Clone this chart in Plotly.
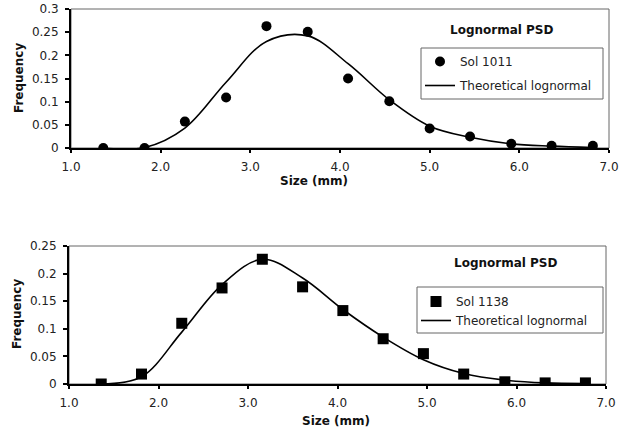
import plotly.graph_objects as go

# ---- data ----
size_1011 = [1.36, 1.82, 2.27, 2.73, 3.18, 3.64, 4.09, 4.55, 5.00, 5.45, 5.91, 6.36, 6.82]
freq_1011 = [0.0, 0.0, 0.057, 0.109, 0.263, 0.251, 0.150, 0.101, 0.042, 0.025, 0.009, 0.005, 0.005]
theory_1011 = [0.0, 0.001, 0.043, 0.142, 0.230, 0.242, 0.182, 0.104, 0.047, 0.023, 0.009, 0.004, 0.001]

size_1138 = [1.36, 1.81, 2.26, 2.71, 3.16, 3.61, 4.06, 4.51, 4.96, 5.41, 5.87, 6.32, 6.77]
freq_1138 = [0.0, 0.018, 0.110, 0.174, 0.226, 0.176, 0.133, 0.082, 0.055, 0.018, 0.004, 0.002, 0.002]
theory_1138 = [0.0, 0.013, 0.094, 0.180, 0.226, 0.192, 0.135, 0.085, 0.044, 0.019, 0.007, 0.002, 0.001]

x_ticks = [1, 2, 3, 4, 5, 6, 7]
x_ticktext = ["1.0", "2.0", "3.0", "4.0", "5.0", "6.0", "7.0"]

W, H = 631, 434
FONT = "DejaVu Sans, Verdana, sans-serif"


def px(x):
    return x / W


def py(y):
    return 1 - y / H


fig = go.Figure()

fig.add_trace(go.Scatter(x=size_1011, y=freq_1011, mode="markers", name="Sol 1011",
                         marker=dict(symbol="circle", size=10, color="black"),
                         xaxis="x", yaxis="y", legend="legend", legendgroup="a"))
fig.add_trace(go.Scatter(x=size_1011, y=theory_1011, mode="lines", name="Theoretical lognormal",
                         line=dict(color="black", width=1.6, shape="spline", smoothing=1.0),
                         xaxis="x", yaxis="y", legend="legend", legendgroup="b"))
fig.add_trace(go.Scatter(x=size_1138, y=freq_1138, mode="markers", name="Sol 1138",
                         marker=dict(symbol="square", size=11, color="black"),
                         xaxis="x2", yaxis="y2", legend="legend2", legendgroup="c"))
fig.add_trace(go.Scatter(x=size_1138, y=theory_1138, mode="lines", name="Theoretical lognormal",
                         line=dict(color="black", width=1.6, shape="spline", smoothing=1.0),
                         xaxis="x2", yaxis="y2", legend="legend2", legendgroup="d"))

xcommon = dict(range=[1, 7], tickmode="array", tickvals=x_ticks, ticktext=x_ticktext,
               showgrid=False, zeroline=False, showline=True, linewidth=2, linecolor="black",
               ticks="outside", ticklen=3, tickwidth=1.5, tickcolor="black", automargin=False,
               tickfont=dict(family=FONT, size=12, color="#222"), ticklabelstandoff=4)
ycommon = dict(dtick=0.05, showgrid=False, zeroline=False, showline=True, linewidth=2,
               linecolor="black", ticks="outside", ticklen=4, tickwidth=1.5, tickcolor="black",
               automargin=False,
               tickfont=dict(family=FONT, size=12, color="#222"), ticklabelstandoff=4)

top = dict(x0=71, x1=609, y0=9, y1=148)
bot = dict(x0=69, x1=606, y0=246, y1=384)

fig.update_layout(
    width=W, height=H, margin=dict(l=0, r=0, t=0, b=0, autoexpand=False),
    paper_bgcolor="white", plot_bgcolor="white",
    font=dict(family=FONT, size=12, color="#222"),
    xaxis=dict(domain=[px(top["x0"]), px(top["x1"])], anchor="y", **xcommon),
    yaxis=dict(domain=[py(top["y1"]), py(top["y0"])], anchor="x", range=[0, 0.3], **ycommon),
    xaxis2=dict(domain=[px(bot["x0"]), px(bot["x1"])], anchor="y2", **xcommon),
    yaxis2=dict(domain=[py(bot["y1"]), py(bot["y0"])], anchor="x2", range=[0, 0.25], **ycommon),
    legend=dict(x=px(420), y=py(47), xanchor="left", yanchor="top", bgcolor="rgba(0,0,0,0)",
                borderwidth=0, tracegroupgap=5, font=dict(family=FONT, size=12, color="#222")),
    legend2=dict(x=px(416), y=py(287), xanchor="left", yanchor="top", bgcolor="rgba(0,0,0,0)",
                 borderwidth=0, tracegroupgap=0, font=dict(family=FONT, size=12, color="#222")),
    showlegend=True,
)

shapes = []
for b in (top, bot):
    shapes.append(dict(type="rect", xref="paper", yref="paper", x0=px(b["x0"]), x1=px(b["x1"]),
                       y0=py(b["y1"]), y1=py(b["y0"]), line=dict(color="#666", width=1), layer="below"))
# legend boxes
shapes.append(dict(type="rect", xref="paper", yref="paper", x0=px(421), x1=px(603), y0=py(99), y1=py(48),
                   line=dict(color="#666", width=1)))
shapes.append(dict(type="rect", xref="paper", yref="paper", x0=px(417), x1=px(603), y0=py(333), y1=py(287),
                   line=dict(color="#666", width=1)))
fig.update_layout(shapes=shapes)

ann = []
def text(x, y, t, bold=True, angle=0):
    ann.append(dict(x=px(x), y=py(y), xref="paper", yref="paper", text=f"<b>{t}</b>" if bold else t,
                    showarrow=False, xanchor="center", yanchor="middle", textangle=angle,
                    font=dict(family=FONT, size=12, color="#111")))

text(502, 30, "Lognormal PSD")
text(506, 263, "Lognormal PSD")
text(314, 181, "Size (mm)")
text(336, 421, "Size (mm)")
text(19, 78, "Frequency", angle=-90)
text(17, 314, "Frequency", angle=-90)
fig.update_layout(annotations=ann)

fig.write_html("out.html")
